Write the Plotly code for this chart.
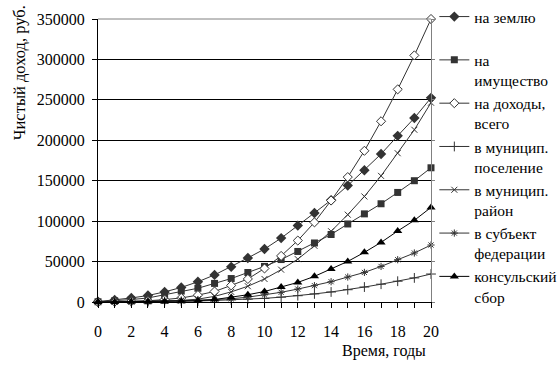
import plotly.graph_objects as go

years = list(range(21))

land = [500, 2500, 5000, 8000, 12500, 18000, 25000, 33500, 43500, 54500, 65500,
        79000, 94500, 110000, 126000, 144000, 163000, 183000, 205500, 227500, 252500]
property_tax = [300, 1500, 3000, 5000, 9000, 13500, 17000, 23000, 29000, 36500, 44000,
                52500, 62500, 73000, 83500, 96500, 109000, 121500, 135500, 150000, 166000]
income_total = [0, 300, 800, 1500, 3000, 5000, 8500, 13000, 20500, 28500, 41500,
                57000, 76000, 98500, 125500, 154500, 187000, 223500, 263000, 305000, 350000]
settlement = [0, 100, 200, 350, 600, 900, 1300, 1900, 2600, 3500, 4500,
              6000, 7800, 10000, 12400, 15200, 18500, 22000, 25700, 29800, 34600]
district = [0, 200, 400, 800, 1300, 2000, 3500, 7000, 12500, 19500, 28500,
            40000, 53000, 69500, 87500, 108000, 130500, 156000, 184000, 213000, 246500]
region = [0, 200, 400, 700, 1100, 1600, 2300, 3000, 4000, 6000, 8800,
          12000, 16000, 20200, 25100, 30900, 36600, 44000, 52300, 60600, 70500]
consular = [0, 100, 200, 300, 500, 800, 1500, 3000, 5700, 9000, 13000,
            18500, 24200, 31700, 40800, 50200, 61400, 73700, 87800, 101000, 117000]

names = ["на землю<br>&nbsp;", "на<br>имущество", "на доходы,<br>всего",
         "в муницип.<br>поселение", "в муницип.<br>район", "в субъект<br>федерации",
         "консульский<br>сбор"]
y_tick_vals = [0, 50000, 100000, 150000, 200000, 250000, 300000, 350000]
x_tick_vals = list(range(0, 21, 2))

FONT = "Liberation Serif, Times New Roman, serif"

series = [
    (land, dict(symbol="diamond", size=8, color="#333333"), "#333333"),
    (property_tax, dict(symbol="square", size=7, color="#333333"), "#333333"),
    (income_total, dict(symbol="diamond", size=7, color="white",
                        line=dict(color="#333333", width=1)), "#333333"),
    (settlement, dict(symbol="cross-thin", size=7, color="#333333",
                      line=dict(color="#333333", width=1)), "#333333"),
    (district, dict(symbol="x-thin", size=6, color="#333333",
                    line=dict(color="#333333", width=1)), "#333333"),
    (region, dict(symbol="asterisk", size=6, color="#333333",
                  line=dict(color="#333333", width=1)), "#333333"),
    (consular, dict(symbol="triangle-up", size=8, color="#000000"), "#000000"),
]

fig = go.Figure()
for (vals, mk, lc), nm in zip(series, names):
    fig.add_trace(go.Scatter(x=years, y=vals, name=nm, mode="lines+markers",
                             line=dict(color=lc, width=1), marker=mk,
                             cliponaxis=False))

# invisible trace to create right-hand axis with ticks
fig.add_trace(go.Scatter(x=[0], y=[0], yaxis="y2", showlegend=False,
                         mode="markers", marker=dict(opacity=0), hoverinfo="skip"))

fig.update_layout(
    width=559, height=365,
    margin=dict(l=98, r=128, t=19, b=63, autoexpand=False),
    paper_bgcolor="white", plot_bgcolor="white",
    font=dict(family=FONT, size=15, color="black"),
    showlegend=True,
    legend=dict(x=1.01, xanchor="left", yref="container", y=1.0, yanchor="top",
                valign="top", font=dict(family=FONT, size=15.5),
                bgcolor="rgba(0,0,0,0)", borderwidth=0,
                tracegroupgap=0, itemwidth=30, maxheight=365),
    xaxis=dict(range=[0, 20], tickvals=x_tick_vals, ticks="outside", ticklen=5,
               tickcolor="black", showline=True, linecolor="black", linewidth=1,
               showgrid=False, zeroline=False, ticklabelstandoff=10,
               tickfont=dict(family=FONT, size=16),
               minor=dict(dtick=1, ticks="outside", ticklen=5, tickcolor="black",
                          showgrid=False)),
    yaxis=dict(range=[0, 350000], tickvals=y_tick_vals, tickformat="d",
               ticks="outside", ticklen=5, tickcolor="black",
               showline=True, linecolor="black", linewidth=1,
               showgrid=True, gridcolor="black", gridwidth=1, zeroline=False,
               ticklabelstandoff=4, tickfont=dict(family=FONT, size=16)),
    yaxis2=dict(range=[0, 350000], tickvals=y_tick_vals, overlaying="y",
                side="right", showticklabels=False, ticks="outside", ticklen=3,
                tickcolor="#808080", showline=True, linecolor="#808080",
                showgrid=False, zeroline=False),
    shapes=[dict(type="line", xref="paper", yref="paper", x0=0, x1=1, y0=1, y1=1,
                 line=dict(color="#808080", width=1))],
    annotations=[
        dict(text="Чистый доход, руб.", textangle=-90, xref="paper", yref="paper",
             x=-0.236, y=0.81, xanchor="center", yanchor="middle", showarrow=False,
             font=dict(family=FONT, size=16.5)),
        dict(text="Время, годы", xref="paper", yref="paper", x=0.86, y=-0.172,
             xanchor="center", yanchor="middle", showarrow=False,
             font=dict(family=FONT, size=16)),
    ],
)

fig.write_html("out.html", config={"displayModeBar": False},
               post_script="document.body.style.margin='0';document.body.style.padding='0';")
